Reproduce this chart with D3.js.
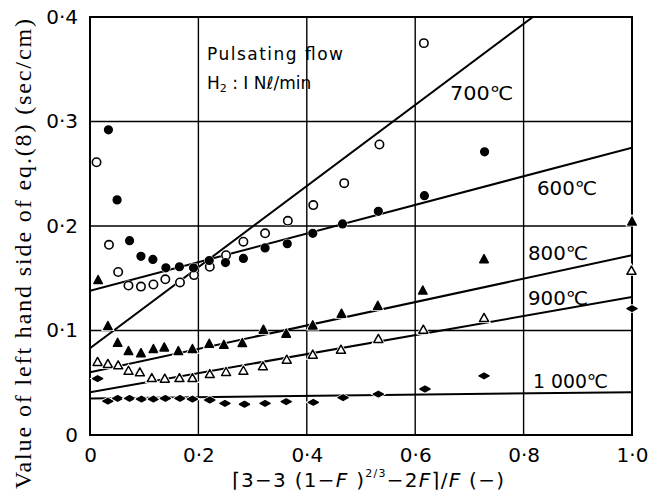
<!DOCTYPE html>
<html><head><meta charset="utf-8">
<script src="https://cdn.jsdelivr.net/npm/d3@7"></script>
<style>body{margin:0;background:#fff}</style>
</head><body><svg id="c" width="648" height="495"></svg>
<script>
// ---- data ----
const xTickValues = [0, 0.2, 0.4, 0.6, 0.8, 1.0];
const xTickLabels = ["0", "0·2", "0·4", "0·6", "0·8", "1·0"];
const yTickValues = [0, 0.1, 0.2, 0.3, 0.4];
const yTickLabels = ["0", "0·1", "0·2", "0·3", "0·4"];
const tempLabels = ["700℃", "600℃", "800℃", "900℃", "1 000℃"];
const lineIntercepts = [0.083, 0.138, 0.060, 0.041, 0.035];
const lineSlopes = [0.388, 0.137, 0.112, 0.091, 0.006];

const pts700 = [[0.012,0.261],[0.035,0.182],[0.052,0.156],[0.071,0.143],[0.094,0.142],[0.117,0.144],[0.139,0.149],[0.166,0.146],[0.192,0.153],[0.221,0.161],[0.251,0.172],[0.283,0.185],[0.323,0.193],[0.365,0.205],[0.412,0.220],[0.469,0.241],[0.534,0.278],[0.616,0.375]];
const pts600 = [[0.034,0.292],[0.050,0.225],[0.073,0.186],[0.094,0.171],[0.116,0.168],[0.140,0.160],[0.165,0.161],[0.191,0.160],[0.220,0.167],[0.250,0.165],[0.283,0.169],[0.323,0.179],[0.364,0.183],[0.411,0.193],[0.466,0.202],[0.532,0.214],[0.617,0.229],[0.728,0.271]];
const pts800 = [[0.015,0.148],[0.033,0.104],[0.051,0.088],[0.071,0.080],[0.094,0.078],[0.117,0.082],[0.137,0.0835],[0.163,0.080],[0.189,0.082],[0.220,0.087],[0.247,0.086],[0.281,0.0877],[0.320,0.1005],[0.362,0.0967],[0.411,0.1046],[0.464,0.1158],[0.531,0.1234],[0.614,0.138],[0.727,0.168],[1.0,0.204]];
const pts900 = [[0.014,0.0696],[0.033,0.0677],[0.052,0.0664],[0.071,0.0612],[0.092,0.0597],[0.114,0.0542],[0.138,0.0536],[0.165,0.0542],[0.189,0.0542],[0.221,0.058],[0.251,0.060],[0.283,0.0612],[0.319,0.0654],[0.363,0.0718],[0.411,0.0766],[0.463,0.0813],[0.532,0.0916],[0.615,0.1005],[0.727,0.1117],[0.999,0.157]];
const pts1000 = [[0.014,0.054],[0.033,0.0325],[0.051,0.035],[0.073,0.035],[0.095,0.0344],[0.117,0.0344],[0.139,0.035],[0.166,0.035],[0.189,0.0344],[0.221,0.0335],[0.249,0.0302],[0.285,0.0294],[0.323,0.0302],[0.362,0.0319],[0.412,0.0313],[0.467,0.0357],[0.532,0.0392],[0.618,0.044],[0.727,0.0565],[1.0,0.121]];

// ---- layout ----
const L = 90, R = 632, T = 17, B = 435;
const x = d3.scaleLinear().domain([0, 1]).range([L, R]);
const y = d3.scaleLinear().domain([0, 0.4]).range([B, T]);
const svg = d3.select("#c");
const sans = "'DejaVu Sans', sans-serif";
const serif = "'Liberation Serif', 'Times New Roman', serif";

svg.append("defs").append("clipPath").attr("id", "clip")
  .append("rect").attr("x", L).attr("y", T).attr("width", R - L).attr("height", B - T);

// grid
const gridG = svg.append("g").attr("stroke", "#000").attr("stroke-width", 1.4);
gridG.selectAll("line.v").data(xTickValues.slice(1, -1)).join("line")
  .attr("x1", d => x(d)).attr("x2", d => x(d)).attr("y1", T).attr("y2", B);
gridG.selectAll("line.h").data(yTickValues.slice(1, -1)).join("line")
  .attr("x1", L).attr("x2", R).attr("y1", d => y(d)).attr("y2", d => y(d));

// frame
svg.append("rect").attr("x", L).attr("y", T).attr("width", R - L).attr("height", B - T)
  .attr("fill", "none").attr("stroke", "#000").attr("stroke-width", 2);

// axes labels via d3 axes
const xAxis = d3.axisBottom(x).tickValues(xTickValues).tickSize(0).tickPadding(13)
  .tickFormat((d, i) => xTickLabels[i]);
const gx = svg.append("g").attr("transform", `translate(0,${B})`).call(xAxis);
gx.select(".domain").remove();
gx.selectAll("text").attr("font-family", sans).attr("font-size", 20).attr("fill", "#000");

const yAxis = d3.axisLeft(y).tickValues(yTickValues).tickSize(0).tickPadding(12)
  .tickFormat((d, i) => yTickLabels[i]);
const gy = svg.append("g").attr("transform", `translate(${L},0)`).call(yAxis);
gy.select(".domain").remove();
gy.selectAll("text").attr("font-family", sans).attr("font-size", 20).attr("fill", "#000");

// fitted lines
const plot = svg.append("g").attr("clip-path", "url(#clip)");
lineIntercepts.forEach((a, i) => {
  const b = lineSlopes[i];
  plot.append("line")
    .attr("x1", x(0)).attr("y1", y(a))
    .attr("x2", x(1)).attr("y2", y(a + b))
    .attr("stroke", "#000").attr("stroke-width", 2);
});

// markers
function tri(w, h) { return `M0,${-h*0.6}L${w/2},${h*0.4}L${-w/2},${h*0.4}Z`; }
function dia(w, h) { return `M${-w/2},0L0,${-h/2}L${w/2},0L0,${h/2}Z`; }
const series = [
  {pts: pts700, kind: "circle", r: 4.2, fill: "#fff"},
  {pts: pts600, kind: "circle", r: 3.8, fill: "#000"},
  {pts: pts800, kind: "path", d: tri(8.5, 8), fill: "#000"},
  {pts: pts900, kind: "path", d: tri(9, 8), fill: "#fff"},
  {pts: pts1000, kind: "path", d: dia(10, 5.5), fill: "#000"}
];
const mk = svg.append("g");
series.forEach(s => {
  const g = mk.append("g");
  s.pts.forEach(p => {
    const px = x(p[0]), py = y(p[1]);
    if (s.kind === "circle") {
      g.append("circle").attr("cx", px).attr("cy", py).attr("r", s.r + 1.2).attr("fill", "#fff");
      g.append("circle").attr("cx", px).attr("cy", py).attr("r", s.r)
        .attr("fill", s.fill).attr("stroke", "#000").attr("stroke-width", 1.6);
    } else {
      g.append("path").attr("d", s.d).attr("transform", `translate(${px},${py})`)
        .attr("fill", "#fff").attr("stroke", "#fff").attr("stroke-width", 3);
      g.append("path").attr("d", s.d).attr("transform", `translate(${px},${py})`)
        .attr("fill", s.fill).attr("stroke", "#000").attr("stroke-width", 1.5)
        .attr("stroke-linejoin", "round");
    }
  });
});

// temperature labels
const labelPos = [[450, 100], [537, 195], [528, 260], [528, 305], [533, 388]];
const labelLen = [63, 60, 60, 60, 75];
tempLabels.forEach((t, i) => {
  svg.append("text").attr("x", labelPos[i][0]).attr("y", labelPos[i][1])
    .attr("font-family", sans).attr("font-size", 19)
    .attr("textLength", labelLen[i]).attr("lengthAdjust", "spacingAndGlyphs")
    .text(t);
});

// annotation
svg.append("text").attr("x", 207).attr("y", 60).attr("font-family", sans).attr("font-size", 17)
  .attr("textLength", 136).attr("lengthAdjust", "spacing").text("Pulsating flow");
const h2 = svg.append("text").attr("x", 207).attr("y", 89).attr("font-family", sans).attr("font-size", 17);
h2.append("tspan").text("H");
h2.append("tspan").attr("font-size", 11).attr("dy", 3).text("2");
h2.append("tspan").attr("dy", -3).text(" : I N");
h2.append("tspan").text("ℓ");
h2.append("tspan").text("/min");

// y axis title
svg.append("text")
  .attr("transform", `translate(31,${(490 + 18) / 2}) rotate(-90)`)
  .attr("text-anchor", "middle")
  .attr("font-family", serif).attr("font-size", 24)
  .attr("textLength", 470).attr("lengthAdjust", "spacing")
  .text("Value of left hand side of eq.(8) (sec/cm)");

// x axis title
const xt = svg.append("text").attr("x", 232).attr("y", 487)
  .attr("font-family", sans).attr("font-size", 20)
  .attr("textLength", 272).attr("lengthAdjust", "spacing");
xt.append("tspan").text("⌈3−3 (1−");
xt.append("tspan").attr("font-style", "italic").text("F");
xt.append("tspan").text(" )");
xt.append("tspan").attr("font-size", 11).attr("dy", -10).text("2/3");
xt.append("tspan").attr("dy", 10).text("−2");
xt.append("tspan").attr("font-style", "italic").text("F");
xt.append("tspan").text("⌉/");
xt.append("tspan").attr("font-style", "italic").text("F");
xt.append("tspan").text("   (−)");
</script></body></html>
